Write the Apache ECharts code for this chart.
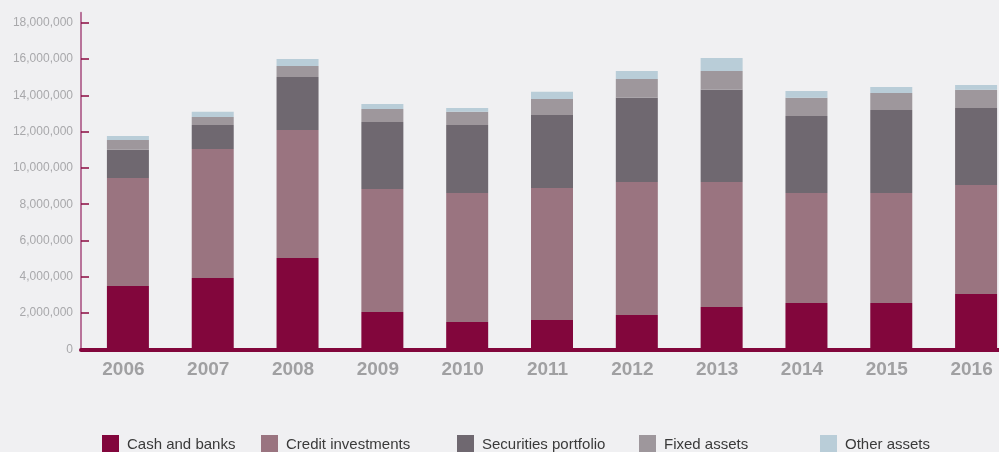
<!DOCTYPE html>
<html>
<head>
<meta charset="utf-8">
<style>
html,body{margin:0;padding:0;background:#f0f0f2;}
#chart{width:999px;height:452px;}
</style>
<script src="https://cdn.jsdelivr.net/npm/echarts@6/dist/echarts.min.js"></script>
</head>
<body>
<div id="chart"></div>
<script>
const years = ['2006','2007','2008','2009','2010','2011','2012','2013','2014','2015','2016'];
const cashAndBanks = [3500000, 3940000, 5040000, 2070000, 1520000, 1630000, 1900000, 2340000, 2560000, 2560000, 3060000];
const creditInvestments = [5950000, 7100000, 7050000, 6770000, 7100000, 7270000, 7330000, 6890000, 6060000, 6060000, 6000000];
const securitiesPortfolio = [1550000, 1330000, 2920000, 3690000, 3750000, 4020000, 4630000, 5070000, 4240000, 4570000, 4240000];
const fixedAssets = [540000, 440000, 610000, 720000, 720000, 880000, 1040000, 1040000, 1000000, 940000, 1000000];
const otherAssets = [220000, 280000, 380000, 270000, 210000, 390000, 440000, 720000, 380000, 330000, 270000];
const yTicks = [0, 2000000, 4000000, 6000000, 8000000, 10000000, 12000000, 14000000, 16000000, 18000000];

const names = ['Cash and banks','Credit investments','Securities portfolio','Fixed assets','Other assets'];
const colors = ['#82063c','#9a7480','#6f6870','#9e979c','#b9cdd8'];
const dataSets = [cashAndBanks, creditInvestments, securitiesPortfolio, fixedAssets, otherAssets];

const font = "'Liberation Sans', Arial, sans-serif";
const chart = echarts.init(document.getElementById('chart'));

const series = [{
  name: '_spacer', type: 'bar', stack: 'spacer', barWidth: 9, barGap: '0%',
  data: years.map(() => null), silent: true, itemStyle: {color: 'transparent'}
}];
names.forEach((n, i) => {
  series.push({
    name: n, type: 'bar', stack: 'total', barWidth: 42, barGap: '0%',
    data: dataSets[i], itemStyle: {color: colors[i]}, emphasis: {disabled: true}
  });
});

const legendLefts = [102, 261, 457, 639, 820];
const legends = names.map((n, i) => ({
  data: [n], left: legendLefts[i], top: 435, padding: 0, itemWidth: 17, itemHeight: 19, itemGap: 0,
  icon: 'rect', selectedMode: false,
  textStyle: {fontFamily: font, fontSize: 15, color: '#3a3a3a', padding: [0,0,0,3]}
}));

chart.setOption({
  backgroundColor: '#f0f0f2',
  animation: false,
  color: colors,
  legend: legends,
  grid: {left: 81, top: 12.7, right: -15, bottom: 102.5, containLabel: false, outerBoundsMode: 'none'},
  xAxis: {
    type: 'category', data: years,
    axisLine: {lineStyle: {color: '#82063c', width: 4}},
    axisTick: {show: false},
    axisLabel: {fontFamily: font, fontSize: 19, fontWeight: 'bold', color: '#a0a0a2', margin: 11}
  },
  yAxis: {
    type: 'value', min: 0, max: 18550000,
    axisLine: {show: true, lineStyle: {color: '#b8739a', width: 2}},
    axisTick: {show: true, inside: true, length: 8, lineStyle: {color: '#8b0a42', width: 1.5}, customValues: yTicks},
    axisLabel: {fontFamily: font, fontSize: 12, color: '#a8a8ab', margin: 8, customValues: yTicks,
      formatter: v => v.toLocaleString('en-US')},
    splitLine: {show: false}
  },
  series: series
});
</script>
</body>
</html>
